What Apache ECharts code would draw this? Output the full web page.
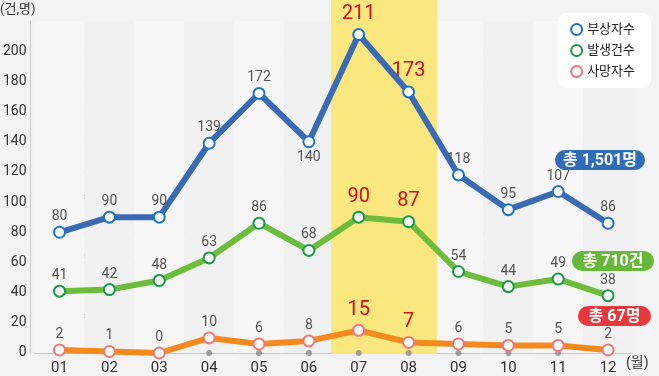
<!DOCTYPE html>
<html><head><meta charset="utf-8">
<script src="https://cdn.jsdelivr.net/npm/echarts@6/dist/echarts.min.js"></script>
<style>html,body{margin:0;padding:0;background:#f3f3f4;}#c{width:659px;height:376px;}</style>
</head><body><div id="c"></div>
<script>
var months = ['01','02','03','04','05','06','07','08','09','10','11','12'];
var injured = [80, 90, 90, 139, 172, 140, 211, 173, 118, 95, 107, 86];
var accidents = [41, 42, 48, 63, 86, 68, 90, 87, 54, 44, 49, 38];
var deaths = [2, 1, 0, 10, 6, 8, 15, 7, 6, 5, 5, 2];
var seriesNames = ['부상자수', '발생건수', '사망자수'];
var totals = ['총 1,501명', '총 710건', '총 67명'];
var highlightMonths = ['07', '08'];
var yTicks = [0,20,40,60,80,100,120,140,160,180,200,220];

var FONT = 'Roboto, "Noto Sans CJK KR", sans-serif';
var hi = {};
highlightMonths.forEach(function(m){ hi[m] = true; });

function mkData(arr, belowIdx) {
  return arr.map(function(v, i){
    var d = { value: v };
    if (hi[months[i]]) {
      d.label = { color: '#c8141e', fontSize: 20, distance: 4 };
    }
    if (belowIdx && belowIdx.indexOf(i) >= 0) {
      d.label = Object.assign({}, d.label || {}, { position: 'bottom' });
    }
    return d;
  });
}

function lineSeries(name, arr, lineColor, borderColor, below) {
  return {
    name: name, type: 'line', data: mkData(arr, below),
    symbol: 'circle', symbolSize: 11, z: 3,
    lineStyle: { color: lineColor, width: 6 },
    itemStyle: { color: '#fff', borderColor: borderColor, borderWidth: 2 },
    label: { show: true, position: 'top', color: '#555', fontSize: 14, fontFamily: FONT, distance: 2 },
    emphasis: { disabled: true }
  };
}

function badge(x, y, w, text, color) {
  return {
    type: 'group', z: 1, children: [
      { type: 'rect', z: 1, shape: { x: x, y: y, width: w, height: 20, r: 10 }, style: { fill: color } },
      { type: 'text', z: 1, x: x + w / 2, y: y + 10.5,
        style: { text: text, fill: '#fff', fontSize: 16, fontWeight: 'bold', fontFamily: FONT, align: 'center', verticalAlign: 'middle' } }
    ]
  };
}

var chart = echarts.init(document.getElementById('c'));
chart.setOption({
  animation: false,
  backgroundColor: '#f3f3f4',
  grid: { left: 32, right: 26, top: 21, bottom: 22 },
  legend: {
    data: seriesNames.map(function(n){ return { name: n, icon: 'circle' }; }),
    orient: 'vertical', right: 8, top: 13,
    backgroundColor: '#ffffff', borderRadius: 8,
    padding: [10, 16, 10, 12], itemGap: 8,
    itemWidth: 11, itemHeight: 11,
    textStyle: { color: '#222', fontSize: 13, fontFamily: FONT },
    selectedMode: false
  },
  xAxis: {
    type: 'category', data: months, boundaryGap: true,
    axisLine: { show: true, lineStyle: { color: '#c8c8c8', width: 1 } },
    axisTick: { show: false },
    axisLabel: { color: '#333', fontSize: 15, fontFamily: FONT, margin: 8 },
    splitArea: { show: true, areaStyle: { color: ['#f6f6f7', '#f1f1f2'] } }
  },
  yAxis: {
    type: 'value', min: 0, max: 220, interval: 20, offset: 4,
    axisLine: { show: true, lineStyle: { color: '#c8c8c8' } },
    axisTick: { show: false },
    axisLabel: { color: '#333', fontSize: 14, fontFamily: FONT, margin: 4,
      formatter: function(v){ return v === 220 ? '' : String(v); } },
    splitLine: { show: true, lineStyle: { color: yTicks.map(function(t){ return t === 220 ? 'rgba(0,0,0,0)' : '#cfcfd1'; }), width: 1.5 } }
  },
  series: [
    {
      name: 'hl', type: 'line', data: [], silent: true,
      markArea: {
        silent: true,
        itemStyle: { color: '#fbe77f' },
        data: [[{ x: 331, y: 0 }, { x: 437, y: 354 }]]
      }
    },
    {
      name: 'dots', type: 'scatter', data: months.map(function(){ return 0; }),
      symbolSize: 6, itemStyle: { color: '#8a8a8a' }, z: 2, silent: true
    },
    lineSeries(seriesNames[0], injured, '#3a6ab4', '#1f73c9', [5]),
    lineSeries(seriesNames[1], accidents, '#6cbd3c', '#1a9a48'),
    lineSeries(seriesNames[2], deaths, '#f4891f', '#f07777')
  ],
  graphic: [
    { type: 'text', x: 0, y: 3, style: { text: '(건,명)', fill: '#333', fontSize: 13, fontFamily: FONT } },
    { type: 'text', x: 626, y: 357, style: { text: '(월)', fill: '#333', fontSize: 14, fontFamily: FONT } },
    { type: 'text', x: 40, y: 192, style: { text: seriesNames[0], fill: '#2f6db8', fontSize: 13, fontFamily: FONT } },
    { type: 'text', x: 40, y: 251, style: { text: seriesNames[1], fill: '#5aae2e', fontSize: 13, fontFamily: FONT } },
    { type: 'text', x: 40, y: 311, style: { text: seriesNames[2], fill: '#e8383b', fontSize: 13, fontFamily: FONT } },
    badge(555, 150, 90, totals[0], '#2f6db8'),
    badge(572, 251, 82, totals[1], '#67b83a'),
    badge(578, 306, 73, totals[2], '#e8383b')
  ]
});
</script></body></html>
